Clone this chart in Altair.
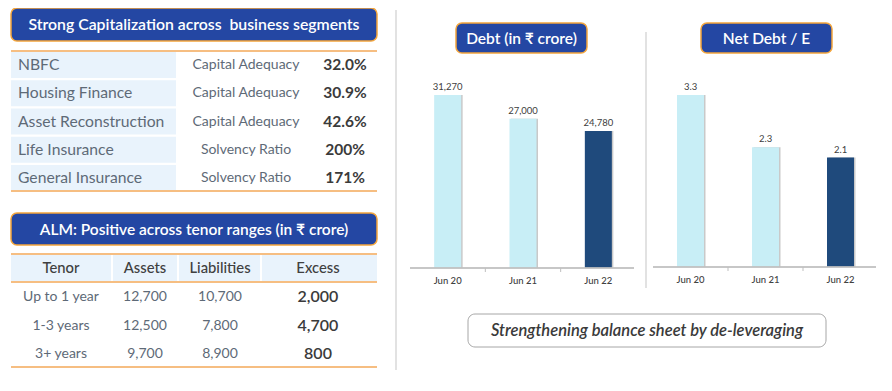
import altair as alt
import pandas as pd

# ---------------- data ----------------
cap_segments = ["NBFC", "Housing Finance", "Asset Reconstruction", "Life Insurance", "General Insurance"]
cap_metrics = ["Capital Adequacy", "Capital Adequacy", "Capital Adequacy", "Solvency Ratio", "Solvency Ratio"]
cap_values = ["32.0%", "30.9%", "42.6%", "200%", "171%"]

alm_headers = ["Tenor", "Assets", "Liabilities", "Excess"]
alm_tenors = ["Up to 1 year", "1-3 years", "3+ years"]
alm_assets = [12700, 12500, 9700]
alm_liabilities = [10700, 7800, 8900]
alm_excess = [2000, 4700, 800]

periods = ["Jun 20", "Jun 21", "Jun 22"]
debt = [31270, 27000, 24780]
net_debt_e = [3.3, 2.3, 2.1]

titles = ["Strong Capitalization across\u00a0 business segments",
          "ALM: Positive across tenor ranges (in \u20b9 crore)",
          "Debt (in \u20b9 crore)",
          "Net Debt / E",
          "Strengthening balance sheet by de-leveraging"]

# ---------------- style ----------------
FONT = "Lato"
BLUE = "#2447A3"
ORANGE = "#F3A53C"
ORANGE_LINE = "#F6BE82"
LIGHT = "#E9F3FC"
GREY_TXT = "#5E6A77"
DARK_TXT = "#3B3B3B"
BAR_LIGHT = "#C8EEF6"
BAR_DARK = "#1F4A7C"

OX, OY = 8, 8
def X(v):
    return v - OX
def Y(v):
    return v - OY

one = pd.DataFrame({"k": [0]})

def box(x1, x2, y1, y2, fill, stroke, sw, r):
    return alt.Chart(one).mark_rect(fill=fill, stroke=stroke, strokeWidth=sw, cornerRadius=r).encode(
        x=alt.value(X(x1)), x2=alt.value(X(x2)), y=alt.value(Y(y1)), y2=alt.value(Y(y2)))

def hrule(x1, x2, y, color, w):
    return alt.Chart(one).mark_rule(color=color, strokeWidth=w).encode(
        x=alt.value(X(x1)), x2=alt.value(X(x2)), y=alt.value(Y(y)))

def vrule(x, y1, y2, color, w):
    return alt.Chart(one).mark_rule(color=color, strokeWidth=w).encode(
        x=alt.value(X(x)), y=alt.value(Y(y1)), y2=alt.value(Y(y2)))

def label(x, y, text, size, color, weight="normal", style="normal", align="center"):
    return alt.Chart(one).mark_text(text=text, font=FONT, fontSize=size, color=color,
                                    fontWeight=weight, fontStyle=style, align=align,
                                    baseline="middle").encode(
        x=alt.value(X(x)), y=alt.value(Y(y)))

def title_box(x1, x2, y1, y2, text, size=15):
    return [box(x1, x2, y1, y2, BLUE, ORANGE, 1.5, 6),
            label((x1 + x2) / 2, (y1 + y2) / 2 + 0.5, text, size, "white", 600)]

layers = []

# ---------------- Table 1 ----------------
layers += title_box(11, 377, 8, 41, titles[0], 15.8)
cap_df = pd.DataFrame({"segment": cap_segments, "metric": cap_metrics, "value": cap_values})
cap_scale = alt.Scale(type="band", domain=cap_segments, range=[Y(52), Y(191)],
                      paddingInner=0.08, paddingOuter=0)
ycap = alt.Y("segment:N", scale=cap_scale, axis=None)
ycap_c = alt.Y("segment:N", bandPosition=0.5, scale=cap_scale, axis=None)
base1 = alt.Chart(cap_df)
cells = base1.mark_rect(fill=LIGHT).encode(y=ycap, x=alt.value(X(11)), x2=alt.value(X(176)))
t_seg = base1.mark_text(font=FONT, fontSize=15.7, color=GREY_TXT, align="left", baseline="middle").encode(
    y=ycap_c, x=alt.value(X(18)), text="segment:N")
t_met = base1.mark_text(font=FONT, fontSize=14, color=GREY_TXT, align="center", baseline="middle").encode(
    y=ycap_c, x=alt.value(X(246)), text="metric:N")
t_val = base1.mark_text(font=FONT, fontSize=15.5, fontWeight="bold", color=DARK_TXT, align="center",
                        baseline="middle").encode(
    y=ycap_c, x=alt.value(X(345)), text="value:N")
layers.append(alt.layer(cells, t_seg, t_met, t_val))
layers += [hrule(11, 377, 51, ORANGE_LINE, 2), hrule(11, 377, 191, ORANGE_LINE, 2)]

# ---------------- Table 2 ----------------
layers += title_box(11, 377, 213, 245, titles[1], 15.5)
layers.append(box(11, 377, 255, 281, LIGHT, LIGHT, 0, 0))
for sx in [112, 178, 261]:
    layers.append(vrule(sx, 255, 281, "white", 2))
layers += [hrule(11, 377, 254, ORANGE_LINE, 2), hrule(11, 377, 282, ORANGE_LINE, 2),
           hrule(11, 377, 367, ORANGE_LINE, 2)]
head_x = [61, 145, 220, 318]
for hx, h in zip(head_x, alm_headers):
    layers.append(label(hx, 269, h, 14.8, "#404040", 500))

alm_df = pd.DataFrame({"tenor": alm_tenors, "assets": alm_assets,
                       "liabilities": alm_liabilities, "excess": alm_excess})
alm_scale = alt.Scale(type="point", domain=alm_tenors, range=[Y(297), Y(354)], padding=0)
yalm = alt.Y("tenor:N", scale=alm_scale, axis=None)
base2 = alt.Chart(alm_df)
a1 = base2.mark_text(font=FONT, fontSize=14, color=GREY_TXT, baseline="middle").encode(
    y=yalm, x=alt.value(X(head_x[0])), text="tenor:N")
a2 = base2.mark_text(font=FONT, fontSize=14, color=GREY_TXT, baseline="middle").encode(
    y=yalm, x=alt.value(X(head_x[1])), text=alt.Text("assets:Q", format=","))
a3 = base2.mark_text(font=FONT, fontSize=14, color=GREY_TXT, baseline="middle").encode(
    y=yalm, x=alt.value(X(head_x[2])), text=alt.Text("liabilities:Q", format=","))
a4 = base2.mark_text(font=FONT, fontSize=16, fontWeight=600, color=DARK_TXT, baseline="middle").encode(
    y=yalm, x=alt.value(X(head_x[3])), text=alt.Text("excess:Q", format=","))
layers.append(alt.layer(a1, a2, a3, a4))

# ---------------- separators ----------------
layers.append(vrule(396, 10, 370, "#D9D9D9", 1.5))
layers.append(vrule(646, 32, 288, "#D9D9D9", 1.5))

# ---------------- bar charts ----------------
def bar_panel(values, field, fmt, x_lo, x_hi, base_y, dom_max, px_per_unit):
    df = pd.DataFrame({"period": periods, field: values})
    xs = alt.Scale(type="band", domain=periods, range=[X(x_lo), X(x_hi)], paddingInner=0, paddingOuter=0)
    ys = alt.Scale(domain=[0, dom_max], range=[Y(base_y), Y(base_y) - dom_max * px_per_unit], nice=False, zero=True)
    xe = alt.X("period:N", scale=xs, axis=None)
    ye = alt.Y(f"{field}:Q", scale=ys, axis=None)
    b = alt.Chart(df)
    shadow = b.mark_bar(size=27, color="#9C9C9C", opacity=0.55, xOffset=1.5).encode(x=xe, y=ye)
    bars = b.mark_bar(size=27).encode(
        x=xe, y=ye,
        color=alt.condition(alt.datum.period == periods[-1], alt.value(BAR_DARK), alt.value(BAR_LIGHT)))
    vals = b.mark_text(font=FONT, fontSize=9.5, color="#404040", dy=-8, baseline="middle").encode(
        x=xe, y=ye, text=alt.Text(f"{field}:Q", format=fmt))
    xlab = b.mark_text(font=FONT, fontSize=9.5, fontWeight=500, color="#404040", baseline="middle").encode(
        x=xe, y=alt.value(Y(base_y + 13)), text="period:N")
    ticks = b.transform_filter(alt.datum.period != periods[0]).mark_rule(color="#BFBFBF", strokeWidth=1).encode(
        x=alt.X("period:N", scale=xs, axis=None, bandPosition=0),
        y=alt.value(Y(base_y)), y2=alt.value(Y(base_y + 4)))
    baseline = b.mark_rule(color="#BFBFBF", strokeWidth=1.2).encode(
        x=alt.value(X(x_lo)), x2=alt.value(X(x_hi - 2)), y=alt.value(Y(base_y)))
    return alt.layer(shadow, bars, vals, xlab, ticks, baseline)

layers += title_box(456, 587, 23, 53, titles[2], 15.5)
layers.append(bar_panel(debt, "debt", ",", 410, 636, 268, 40000, 0.00553))
layers += title_box(701, 832, 23, 53, titles[3], 15.5)
layers.append(bar_panel(net_debt_e, "nde", ".1f", 653, 878, 267, 4, 52.1))

# ---------------- banner ----------------
layers.append(box(468, 826, 314, 347, "white", "#A6A6A6", 1, 7))
layers.append(label(647, 331, titles[4], 16.5, "#3A3A3A", 600, "italic"))

chart = alt.layer(*layers).resolve_scale(x="independent", y="independent", color="independent").properties(
    width=876, height=375, padding=0, autosize=alt.AutoSizeParams(type="none")
).configure_view(stroke=None)

chart.save("out.html", embed_options={"renderer": "svg", "actions": False})
